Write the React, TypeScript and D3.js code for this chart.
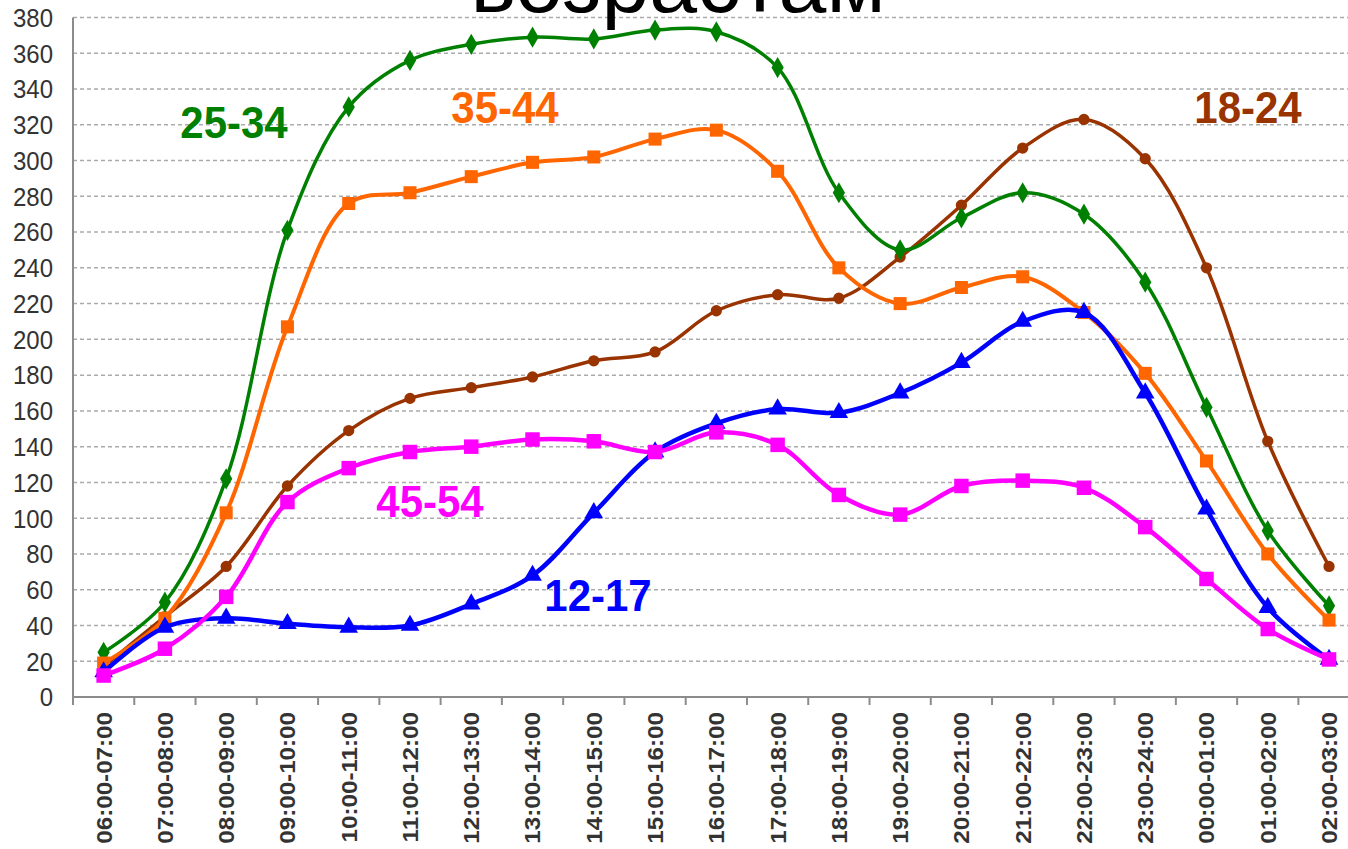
import React, { useEffect, useRef } from 'react';
import * as d3 from 'd3';

const hours = [
  '06:00-07:00', '07:00-08:00', '08:00-09:00', '09:00-10:00', '10:00-11:00',
  '11:00-12:00', '12:00-13:00', '13:00-14:00', '14:00-15:00', '15:00-16:00',
  '16:00-17:00', '17:00-18:00', '18:00-19:00', '19:00-20:00', '20:00-21:00',
  '21:00-22:00', '22:00-23:00', '23:00-24:00', '00:00-01:00', '01:00-02:00',
  '02:00-03:00',
];

const age12_17 = [14, 39, 44, 41, 39, 40, 52, 68, 103, 137, 153, 161, 159, 170, 187, 210, 215, 170, 105, 50, 21];
const age18_24 = [17, 45, 73, 118, 149, 167, 173, 179, 188, 193, 216, 225, 223, 246, 275, 307, 323, 301, 240, 143, 73];
const age25_34 = [25, 53, 122, 261, 330, 356, 365, 369, 368, 373, 372, 352, 282, 250, 268, 282, 270, 232, 162, 93, 51];
const age35_44 = [19, 44, 103, 207, 276, 282, 291, 299, 302, 312, 317, 294, 240, 220, 229, 235, 215, 181, 132, 80, 43];
const age45_54 = [12, 27, 56, 109, 128, 137, 140, 144, 143, 137, 148, 141, 113, 102, 118, 121, 117, 95, 66, 38, 21];

const yTicks = d3.range(0, 381, 20);

const App = () => {
  const svgRef = useRef(null);

  useEffect(() => {
    const svg = d3.select(svgRef.current);
    svg.selectAll('*').remove();

    const width = 1348;
    const height = 849;
    const left = 73;
    const step = 61.27;

    svg.attr('width', width).attr('height', height);

    const x = d3.scaleBand().domain(hours).range([left, left + step * hours.length]);
    const y = d3.scaleLinear().domain([0, 380]).range([697, 17.5]);
    const cx = (h) => x(h) + x.bandwidth() / 2;

    // сетка
    svg.append('g')
      .selectAll('line')
      .data(yTicks.filter(d => d > 0))
      .enter().append('line')
      .attr('x1', left).attr('x2', width)
      .attr('y1', d => y(d)).attr('y2', d => y(d))
      .attr('stroke', '#ababab')
      .attr('stroke-width', 1.5)
      .attr('stroke-dasharray', '4,3');

    // оси
    svg.append('line')
      .attr('x1', left).attr('x2', left)
      .attr('y1', y(380)).attr('y2', y(0) + 8)
      .attr('stroke', '#8c8c8c').attr('stroke-width', 2);
    svg.append('line')
      .attr('x1', left).attr('x2', width)
      .attr('y1', y(0)).attr('y2', y(0))
      .attr('stroke', '#8c8c8c').attr('stroke-width', 2);
    svg.append('g')
      .selectAll('line')
      .data(hours)
      .enter().append('line')
      .attr('x1', d => x(d) + x.bandwidth()).attr('x2', d => x(d) + x.bandwidth())
      .attr('y1', y(0)).attr('y2', y(0) + 8)
      .attr('stroke', '#8c8c8c').attr('stroke-width', 2);

    // подписи оси Y
    svg.append('g')
      .selectAll('text')
      .data(yTicks)
      .enter().append('text')
      .attr('transform', d => `translate(53,${y(d)}) scale(1,1.08)`)
      .attr('dy', '0.36em')
      .attr('text-anchor', 'end')
      .style('font-family', 'Liberation Sans, Arial, sans-serif')
      .style('font-size', '24px')
      .style('fill', '#333')
      .text(d => d);

    // подписи оси X
    svg.append('g')
      .selectAll('text')
      .data(hours)
      .enter().append('text')
      .attr('transform', d => `translate(${cx(d)},712) scale(1,1.1) rotate(-90)`)
      .attr('dy', '0.36em')
      .attr('text-anchor', 'end')
      .style('font-family', 'Liberation Sans, Arial, sans-serif')
      .style('font-size', '22px')
      .style('font-weight', 'bold')
      .style('fill', '#333')
      .text(d => d);

    // заголовок (виден только низ)
    svg.append('text')
      .attr('x', 678).attr('y', 12)
      .attr('text-anchor', 'middle')
      .style('font-family', 'Liberation Sans, Arial, sans-serif')
      .style('font-size', '86px')
      .style('fill', '#000')
      .text('возрастам');

    const series = [
      { name: '18-24', values: age18_24, color: '#993300', width: 3.5, marker: 'circle', size: 100, lx: 1248, ly: 123 },
      { name: '25-34', values: age25_34, color: '#008000', width: 3.5, marker: 'diamond', size: 130, lx: 234, ly: 138 },
      { name: '35-44', values: age35_44, color: '#FF6600', width: 4, marker: 'square', size: 170, lx: 505, ly: 123 },
      { name: '12-17', values: age12_17, color: '#0000FF', width: 4.5, marker: 'triangle', size: 150, lx: 598, ly: 611 },
      { name: '45-54', values: age45_54, color: '#FF00FF', width: 4.5, marker: 'square', size: 210, lx: 430, ly: 517 },
    ];

    const symbols = {
      circle: d3.symbolCircle,
      diamond: d3.symbolDiamond,
      square: d3.symbolSquare,
      triangle: d3.symbolTriangle,
    };

    const line = d3.line()
      .x((d, i) => cx(hours[i]))
      .y(d => y(d))
      .curve(d3.curveCatmullRom.alpha(0.5));

    series.forEach(s => {
      const g = svg.append('g');
      g.append('path')
        .attr('d', line(s.values))
        .attr('fill', 'none')
        .attr('stroke', s.color)
        .attr('stroke-width', s.width)
        .attr('stroke-linejoin', 'round');
      g.selectAll('path.marker')
        .data(s.values)
        .enter().append('path')
        .attr('class', 'marker')
        .attr('transform', (d, i) => `translate(${cx(hours[i])},${y(d)})`)
        .attr('d', d3.symbol().type(symbols[s.marker]).size(s.size))
        .attr('fill', s.color);
    });

    // подписи серий
    svg.append('g')
      .selectAll('text')
      .data(series)
      .enter().append('text')
      .attr('transform', d => `translate(${d.lx},${d.ly}) scale(1,1.06)`)
      .attr('text-anchor', 'middle')
      .style('font-family', 'Liberation Sans, Arial, sans-serif')
      .style('font-size', '42px')
      .style('font-weight', 'bold')
      .style('fill', d => d.color)
      .text(d => d.name);
  }, []);

  return (
    <svg ref={svgRef} style={{ position: 'absolute', left: 0, top: 0, display: 'block' }}></svg>
  );
};

export default App;
